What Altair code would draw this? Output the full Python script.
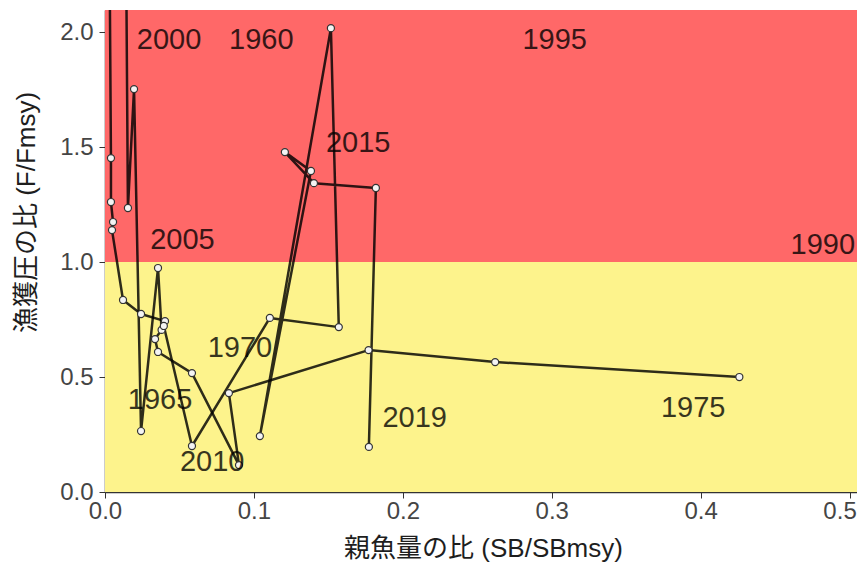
import altair as alt
import pandas as pd

# ---- data ----
years = [1960, 1961, 1962, 1963, 1964, 1965, 1966, 1967, 1968, 1969, 1970,
         1971, 1972, 1973, 1974, 1975,
         2000, 2001, 2002, 2003, 2004, 2005, 2006, 2007, 2008, 2009, 2010,
         2011, 2012, 2013, 2014, 2015, 2016, 2017, 2018, 2019]
sb_ratio = [0.010, 0.013, 0.014, 0.0154, 0.0195, 0.0242, 0.0356, 0.0380, 0.0336, 0.0356, 0.0584,
            0.0900, 0.0832, 0.1770, 0.2620, 0.4260,
            0.0030, 0.0030, 0.0040, 0.0040, 0.0054, 0.0047, 0.0121, 0.0242, 0.0403, 0.0395, 0.0584,
            0.1107, 0.1570, 0.1517, 0.1040, 0.1383, 0.1208, 0.1403, 0.1819, 0.1772]
f_ratio = [3.20, 2.90, 2.50, 1.235, 1.752, 0.265, 0.974, 0.705, 0.665, 0.609, 0.517,
           0.117, 0.430, 0.617, 0.565, 0.500,
           3.00, 2.40, 1.452, 1.261, 1.174, 1.139, 0.835, 0.774, 0.743, 0.722, 0.200,
           0.757, 0.717, 2.017, 0.243, 1.396, 1.478, 1.343, 1.322, 0.196]
segment = ["A"] * 16 + ["B"] * 20

label_text = ["2000", "1960", "1995", "2015", "2005", "1990", "1970", "1965", "2010", "2019", "1975"]
label_x = [0.043, 0.105, 0.302, 0.170, 0.052, 0.482, 0.0906, 0.037, 0.072, 0.208, 0.395]
label_y = [1.965, 1.965, 1.965, 1.517, 1.096, 1.074, 0.626, 0.400, 0.130, 0.322, 0.365]

zone_names = ["over", "caution"]
zone_x0 = [0.0, 0.0]
zone_x1 = [0.6, 0.6]
zone_y0 = [1.0, 0.0]
zone_y1 = [3.0, 1.0]
zone_colors = ["#FF6868", "#FDF38C"]

x_ticks = [0.0, 0.1, 0.2, 0.3, 0.4, 0.5]
y_ticks = [0.0, 0.5, 1.0, 1.5, 2.0]
X_MAX = 0.505
Y_MAX = 2.096

FONT = "Liberation Sans, Noto Sans CJK JP"

pts = pd.DataFrame({"year": years, "sb": sb_ratio, "f": f_ratio, "segment": segment})
labels = pd.DataFrame({"label": label_text, "lx": label_x, "ly": label_y})
zones = pd.DataFrame({"zone": zone_names, "x0": zone_x0, "x1": zone_x1, "y0": zone_y0, "y1": zone_y1})

xscale = alt.Scale(domain=[0, X_MAX], nice=False, zero=False)
yscale = alt.Scale(domain=[0, Y_MAX], nice=False, zero=False)

XT = "親魚量の比 (SB/SBmsy)"
YT = "漁獲圧の比 (F/Fmsy)"

xaxis = alt.Axis(title=XT, values=x_ticks, format=".1f", grid=False, labelFlush=False,
                 labelFontSize=24, labelColor="#454545", labelFont=FONT, labelPadding=1,
                 labelOffset={"condition": {"test": "datum.value >= 0.45", "value": -10}, "value": 0},
                 tickSize=6, tickColor="#333333", domainColor="#333333", domainWidth=1.5,
                 titleFontSize=26, titleFont=FONT, titleFontWeight="normal", titleColor="#1e1e1e",
                 titleX=378, titleY=43, titleBaseline="top")
yaxis = alt.Axis(title=YT, values=y_ticks, format=".1f", grid=False,
                 labelFontSize=24, labelColor="#454545", labelFont=FONT, labelPadding=6,
                 tickSize=6, tickColor="#333333", domainColor="#333333", domainWidth=1.5,
                 titleFontSize=26, titleFont=FONT, titleFontWeight="normal", titleColor="#1e1e1e",
                 titleX=-66, titleY=202)

zone_layer = alt.Chart(zones).mark_rect(clip=True).encode(
    x=alt.X("x0:Q", scale=xscale, axis=xaxis, title=XT),
    x2="x1:Q",
    y=alt.Y("y0:Q", scale=yscale, axis=yaxis, title=YT),
    y2="y1:Q",
    color=alt.Color("zone:N", scale=alt.Scale(domain=zone_names, range=zone_colors), legend=None),
)

line_layer = alt.Chart(pts).mark_line(color="black", opacity=0.82, strokeWidth=2.5, clip=True,
                                      strokeJoin="round", strokeCap="round").encode(
    x=alt.X("sb:Q", scale=xscale, axis=xaxis, title=XT),
    y=alt.Y("f:Q", scale=yscale, axis=yaxis, title=YT),
    detail="segment:N",
    order="year:Q",
)

point_layer = alt.Chart(pts).mark_circle(size=50, fill="#f4f4f4", stroke="#333333", strokeWidth=1.2,
                                         opacity=1, clip=True).encode(
    x=alt.X("sb:Q", scale=xscale, axis=xaxis, title=XT),
    y=alt.Y("f:Q", scale=yscale, axis=yaxis, title=YT),
)

text_layer = alt.Chart(labels).mark_text(fontSize=29, font=FONT, color="black", opacity=0.78,
                                         clip=True).encode(
    x=alt.X("lx:Q", scale=xscale, axis=xaxis, title=XT),
    y=alt.Y("ly:Q", scale=yscale, axis=yaxis, title=YT),
    text="label:N",
)

chart = alt.layer(zone_layer, line_layer, point_layer, text_layer).properties(
    width=752, height=482,
    autosize=alt.AutoSizeParams(type="none"),
    padding={"left": 97, "top": 2, "right": 0, "bottom": 70},
    background="white",
).configure_view(stroke=None)

chart.save("out.html", embed_options={"renderer": "svg", "actions": False})
